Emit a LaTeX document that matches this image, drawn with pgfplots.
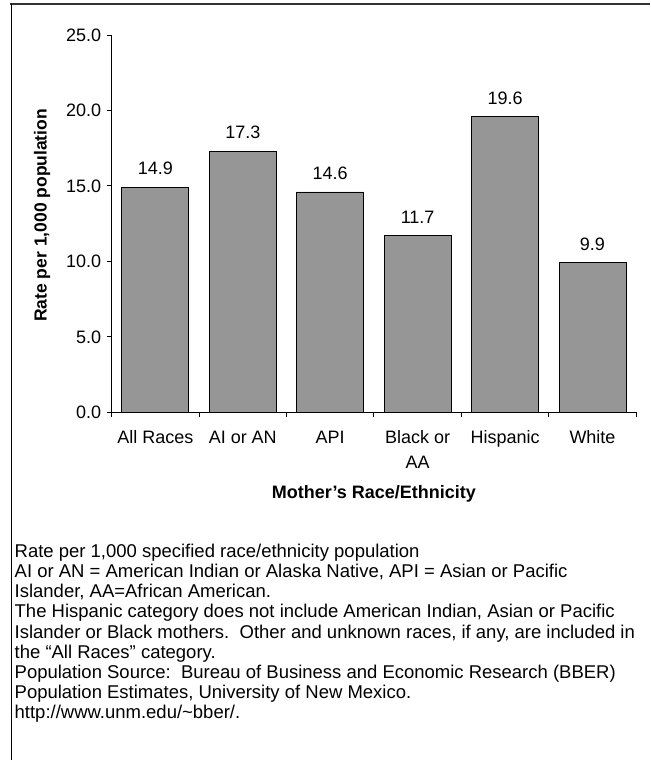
\documentclass[border=0pt]{standalone}
\usepackage{pgfplots}
\pgfplotsset{compat=1.18}
\usepackage{fontspec}
\setmainfont{Liberation Sans}
\definecolor{barfill}{RGB}{150,150,150}
\begin{document}
\begin{tikzpicture}[x=1pt,y=1pt]
\path (0,0) rectangle (650,761);
\draw[line width=2pt, color=black!80] (10,757.2) -- (650,757.2);
\draw[line width=1.2pt, color=black] (11.7,757.2) -- (11.7,0);
\begin{axis}[
  at={(111.7pt,348.3pt)}, anchor=south west,
  scale only axis, width=525pt, height=377.7pt,
  xmin=-0.5, xmax=5.5, ymin=0, ymax=25,
  axis x line*=bottom, axis y line*=left,
  axis line style={line width=0.9pt, color=black},
  xtick={-0.5,0.5,1.5,2.5,3.5,4.5,5.5},
  x tick label as interval,
  xticklabels={All Races, AI or AN, API, {Black or\\AA}, Hispanic, White},
  x tick label style={align=center, font=\fontsize{18}{24.5}\selectfont, yshift=-10pt},
  ytick={0,5,10,15,20,25},
  yticklabel style={font=\fontsize{18}{21}\selectfont, xshift=-2pt, /pgf/number format/fixed, /pgf/number format/fixed zerofill, /pgf/number format/precision=1, /pgf/number format/assume math mode=true},
  tick align=outside, major tick length=5pt,
  tick style={line width=0.9pt, color=black},
  ylabel={\bfseries Rate per 1,000 population},
  ylabel style={font=\fontsize{17.5}{21}\selectfont, at={(axis description cs:-0.1324,0.522)}, anchor=center},
  xlabel={\bfseries Mother's Race/Ethnicity},
  xlabel style={font=\fontsize{18}{21}\selectfont, at={(axis description cs:0.5,-0.217)}, anchor=center},
  ybar, bar width=67pt,
  nodes near coords,
  nodes near coords style={font=\fontsize{18}{21}\selectfont, /pgf/number format/fixed, /pgf/number format/fixed zerofill, /pgf/number format/precision=1, /pgf/number format/assume math mode=true, yshift=8.5pt},
  clip=false,
]
\addplot[fill=barfill, draw=black, line width=0.9pt] coordinates {
  (0,14.9) (1,17.3) (2,14.6) (3,11.7) (4,19.6) (5,9.9)
};
\end{axis}
\node[anchor=north west, align=left, inner sep=0pt, font=\fontsize{18.5}{20.2}\selectfont] at (14.5,216.9) {%
Rate per 1,000 specified race/ethnicity population\\
AI or AN = American Indian or Alaska Native, API = Asian or Pacific\\
Islander, AA=African American.\\
The Hispanic category does not include American Indian, Asian or Pacific\\
Islander or Black mothers.\ \ Other and unknown races, if any, are included in\\
the “All Races” category.\\
Population Source:\ \ Bureau of Business and Economic Research (BBER)\\
Population Estimates, University of New Mexico.\\
http://www.unm.edu/\textasciitilde bber/.};
\end{tikzpicture}
\end{document}
